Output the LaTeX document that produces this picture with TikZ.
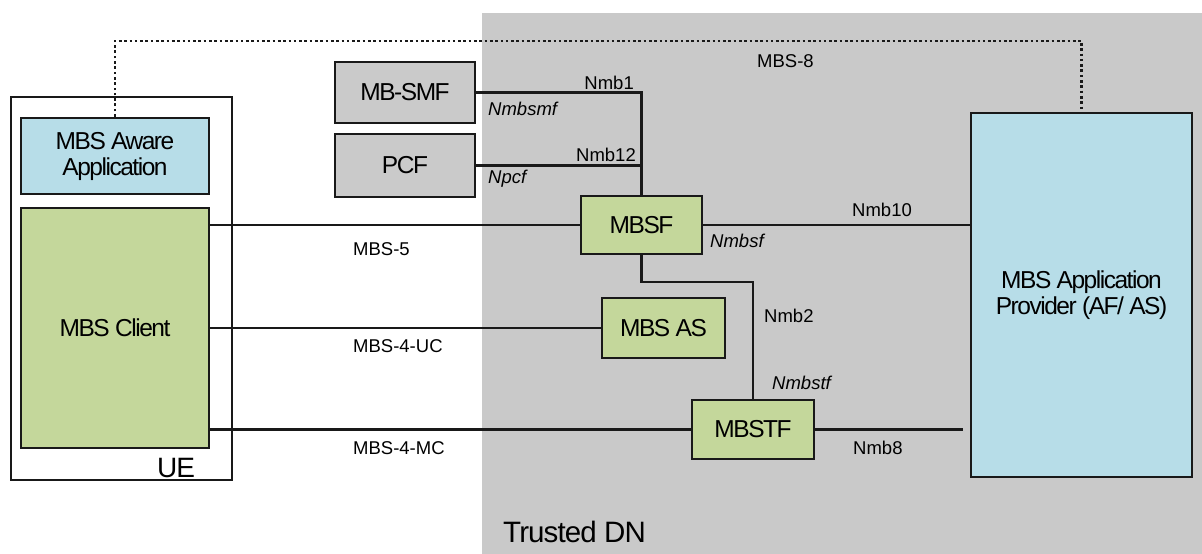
\documentclass[tikz,border=0pt]{standalone}
\usepackage{fontspec}
\setmainfont{Liberation Sans}
\definecolor{dngray}{HTML}{C9C9C9}
\definecolor{appblue}{HTML}{B7DDE8}
\definecolor{fngreen}{HTML}{C4D79B}
\definecolor{nfgray}{HTML}{CACACA}
\begin{document}
\begin{tikzpicture}[x=1pt,y=-1pt,
  box/.style={draw=black!90,line width=2.8pt,inner sep=0pt,align=center,
    font=\fontsize{24.5}{26}\selectfont\addfontfeatures{LetterSpace=-6}},
  lbl/.style={inner sep=0pt,font=\fontsize{18.5}{20}\selectfont},
  ilbl/.style={inner sep=0pt,font=\fontsize{18.5}{20}\selectfont\itshape},
  conn/.style={draw=black!90,line width=2.5pt},
  dotconn/.style={draw=black!90,line width=2.5pt,dash pattern=on 2.6pt off 2.7pt}]
\useasboundingbox (0,0) rectangle (1202,554);
\fill[dngray] (482,13) rectangle (1202,554);
\node[draw=black!90,line width=2.4pt,fill=white,minimum width=221pt,minimum height=383pt,inner sep=0pt] (ue) at (121.5,288.5) {};
\node[box,fill=appblue,minimum width=188pt,minimum height=76pt] (aware) at (115,156) {MBS Aware\\Application};
\node[box,fill=fngreen,minimum width=188pt,minimum height=240pt] (client) at (115,328) {MBS Client};
\node[inner sep=0pt,anchor=base west,font=\fontsize{28}{30}\selectfont\addfontfeatures{LetterSpace=-4}] (uelbl) at (157,477) {UE};
\node[box,fill=nfgray,minimum width=140pt,minimum height=61pt] (mbsmf) at (405,92.5) {MB-SMF};
\node[box,fill=nfgray,minimum width=140pt,minimum height=63pt] (pcf) at (405,165.5) {PCF};
\node[box,fill=fngreen,minimum width=121pt,minimum height=58pt] (mbsf) at (641.5,225) {MBSF};
\node[box,fill=fngreen,minimum width=123pt,minimum height=60pt] (mbsas) at (663.5,328) {MBS AS};
\node[box,fill=fngreen,minimum width=122pt,minimum height=59pt] (mbstf) at (753,429.5) {MBSTF};
\node[box,fill=appblue,minimum width=221pt,minimum height=364pt] (ap) at (1081.5,295) {MBS Application\\Provider (AF/ AS)};
\node[inner sep=0pt,anchor=base west,font=\fontsize{29.5}{31}\selectfont\addfontfeatures{LetterSpace=-3}] (dnlbl) at (503,542) {Trusted DN};
% connectors
\coordinate (mbs8y) at (0,41);
\coordinate (nmb2y) at (0,282);
\coordinate (nmb8end) at (963,429.5);
\draw[dotconn] (aware.north) -- (aware.north |- mbs8y) -| (ap.north);
\draw[conn] (mbsmf.east) -| (mbsf.north);
\draw[conn] (pcf.east) -- (pcf.east -| mbsf.north);
\draw[conn] (client.east |- mbsf.west) -- (mbsf.west);
\draw[conn] (client.east |- mbsas.west) -- (mbsas.west);
\draw[conn] (client.east |- mbstf.west) -- (mbstf.west);
\draw[conn] (mbsf.east) -- (mbsf.east -| ap.west);
\draw[conn] (mbsf.south) -- (mbsf.south |- nmb2y) -| (mbstf.north);
\draw[conn] (mbstf.east) -- (nmb8end);
% labels
\node[lbl,anchor=base west] (l8) at (757,67) {MBS-8};
\node[lbl,anchor=base east] (l1) at (634,89) {Nmb1};
\node[ilbl,anchor=base west] (lsmf) at (488,115) {Nmbsmf};
\node[lbl,anchor=base east] (l12) at (636,161) {Nmb12};
\node[ilbl,anchor=base west] (lpcf) at (488,183) {Npcf};
\node[lbl,anchor=base west] (l10) at (852,216) {Nmb10};
\node[ilbl,anchor=base west] (lsf) at (710,247) {Nmbsf};
\node[lbl,anchor=base west] (l5) at (353,255) {MBS-5};
\node[lbl,anchor=base west] (l2) at (764,322) {Nmb2};
\node[lbl,anchor=base west] (luc) at (353,352) {MBS-4-UC};
\node[ilbl,anchor=base west] (lstf) at (772,389) {Nmbstf};
\node[lbl,anchor=base west] (lmc) at (353,454) {MBS-4-MC};
\node[lbl,anchor=base west] (l8b) at (853,454) {Nmb8};
\end{tikzpicture}
\end{document}
